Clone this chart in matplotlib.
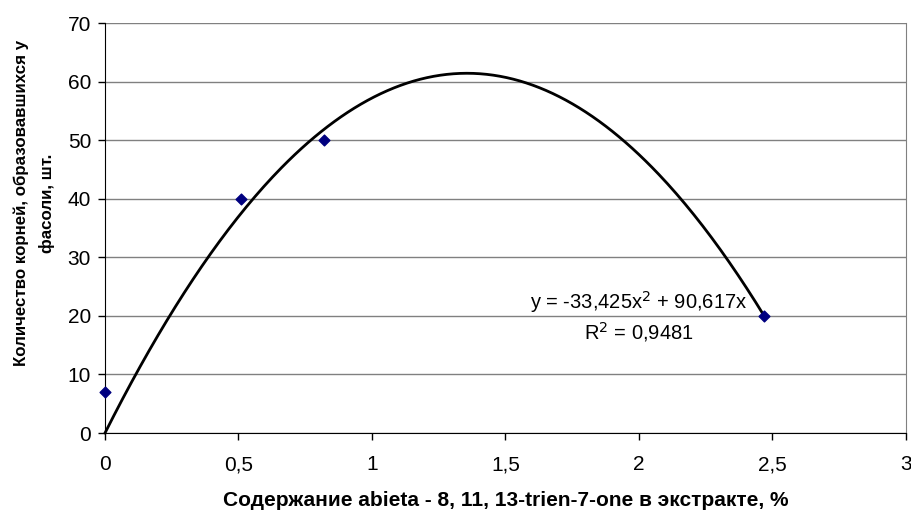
import numpy as np
import matplotlib.pyplot as plt
from matplotlib.ticker import FuncFormatter

plt.rcParams["font.family"] = ["Liberation Sans", "DejaVu Sans"]

# observed points
conc = [0.0, 0.51, 0.82, 2.47]
roots = [7, 40, 50, 20]

# polynomial trendline (shown on the chart), intercept fixed at 0
coef_a = -33.425
coef_b = 90.617
r2 = 0.9481

xticks = [0, 0.5, 1, 1.5, 2, 2.5, 3]
yticks = [0, 10, 20, 30, 40, 50, 60, 70]


def comma(v, pos):
    s = f"{v:g}"
    return s.replace(".", ",")


fig = plt.figure(figsize=(9.12, 5.11), dpi=100)
ax = fig.add_axes([105 / 912, 78 / 511, 801 / 912, 410 / 511])

ax.set_xlim(0, 3)
ax.set_ylim(0, 70)
ax.set_xticks(xticks)
ax.set_yticks(yticks)
ax.xaxis.set_major_formatter(FuncFormatter(comma))
ax.yaxis.set_major_formatter(FuncFormatter(comma))
ax.yaxis.grid(True, color="#808080", linewidth=1.0)
ax.set_axisbelow(True)

ax.spines["top"].set_visible(False)
ax.spines["right"].set_color("#808080")
ax.spines["left"].set_color("black")
ax.spines["bottom"].set_color("black")

xs = np.linspace(0, max(conc), 300)
ax.plot(xs, coef_a * xs ** 2 + coef_b * xs, color="black", linewidth=2.0, clip_on=False)
ax.scatter(conc, roots, marker="D", s=30, color="#000080", zorder=3, clip_on=False)

ax.text(2.0, 22.4, "y = -33,425x$^{2}$ + 90,617x", fontsize=14.5, ha="center", va="center")
ax.text(2.0, 17.2, f"R$^{{2}}$ = {r2:g}".replace(".", ","), fontsize=14.5, ha="center", va="center")

ax.tick_params(labelsize=15, direction="out", length=5, width=1, colors="black")
ax.tick_params(axis="x", pad=11)
ax.tick_params(axis="y", pad=5)
ax.set_xlabel("Содержание abieta - 8, 11, 13-trien-7-one в экстракте, %",
              fontsize=15, fontweight="bold", labelpad=12)
fig.text(34 / 912, 1 - 203 / 511, "Количество корней, образовавшихся у\nфасоли, шт.",
         fontsize=12.2, fontweight="bold", rotation=90, ha="center", va="center",
         multialignment="center", linespacing=1.75)

fig.savefig("out.png", dpi=100)
